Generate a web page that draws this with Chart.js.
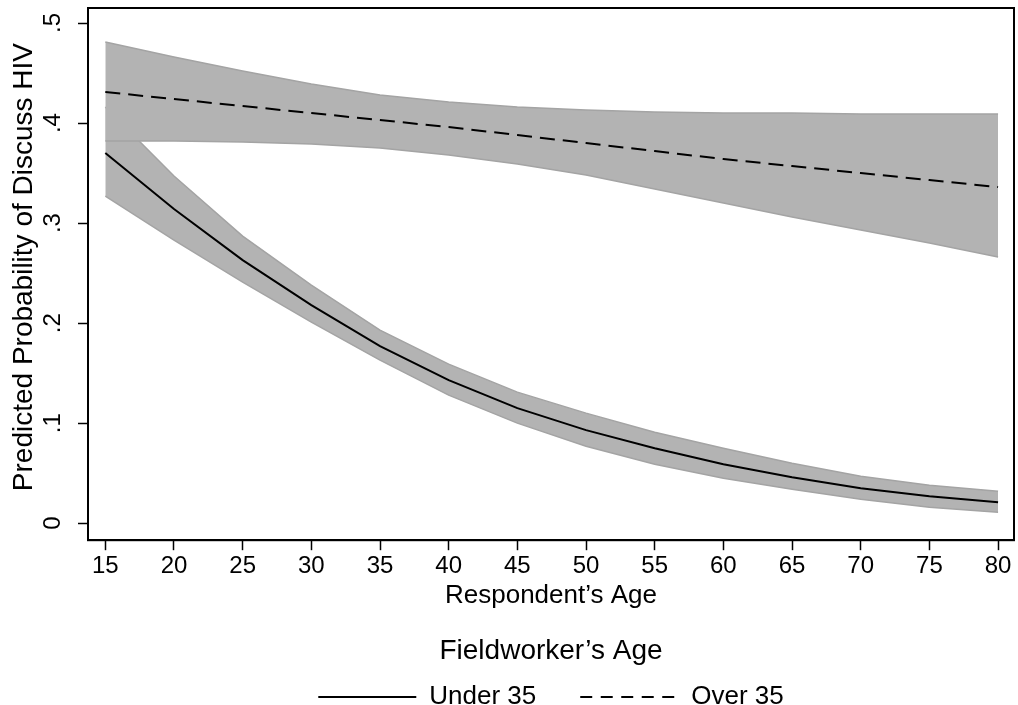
<!DOCTYPE html>
<html><head><meta charset="utf-8">
<script src="https://cdn.jsdelivr.net/npm/chart.js@4/dist/chart.umd.min.js"></script>
<style>html,body{margin:0;padding:0;background:#fff;}</style>
</head><body>
<canvas id="c" width="1018" height="705"></canvas>
<script>
// ---- data ----
const ages = [15,20,25,30,35,40,45,50,55,60,65,70,75,80];
const under35      = [0.370,0.314,0.263,0.218,0.177,0.143,0.115,0.093,0.075,0.059,0.046,0.035,0.027,0.021];
const under35Upper = [0.416,0.347,0.287,0.238,0.193,0.159,0.131,0.110,0.091,0.075,0.060,0.047,0.038,0.032];
const under35Lower = [0.327,0.283,0.241,0.201,0.163,0.128,0.100,0.077,0.059,0.045,0.034,0.024,0.016,0.011];
const over35       = [0.431,0.424,0.417,0.410,0.403,0.396,0.388,0.380,0.372,0.364,0.357,0.350,0.343,0.336];
const over35Upper  = [0.481,0.466,0.452,0.439,0.428,0.421,0.416,0.413,0.411,0.410,0.410,0.409,0.409,0.409];
const over35Lower  = [0.382,0.382,0.381,0.379,0.375,0.368,0.359,0.348,0.334,0.320,0.306,0.293,0.280,0.266];
const xTicks = [15,20,25,30,35,40,45,50,55,60,65,70,75,80];
const yTicks = [0,0.1,0.2,0.3,0.4,0.5];
const yTickLabels = ['0','.1','.2','.3','.4','.5'];
const seriesNames = ['Under 35','Over 35'];

const pts = arr => ages.map((a,i)=>({x:a, y:arr[i]}));
const FONT = '"Liberation Sans", Arial, Helvetica, sans-serif';
Chart.defaults.font.family = FONT;
Chart.defaults.color = '#000';

const BAND = '#b3b3b3', EDGE = '#a4a4a4';
const bandBase = {pointRadius:0, borderColor:EDGE, borderWidth:1.5, backgroundColor:BAND, tension:0};

const framePlugin = {
  id:'frame',
  afterDatasetsDraw(chart){
    const {ctx, chartArea:a} = chart;
    ctx.save(); ctx.strokeStyle='#000'; ctx.lineWidth=2;
    ctx.strokeRect(a.left, a.top, a.right-a.left, a.bottom-a.top);
    ctx.restore();
  }
};

new Chart(document.getElementById('c'), {
  type:'line',
  data:{datasets:[
    {...bandBase, label:'u35 upper', data:pts(under35Upper), fill:'+1', order:6},
    {...bandBase, label:'u35 lower', data:pts(under35Lower), fill:false, order:5},
    {...bandBase, label:'o35 upper', data:pts(over35Upper), fill:'+1', order:4},
    {...bandBase, label:'o35 lower', data:pts(over35Lower), fill:false, order:3},
    {label:seriesNames[1], data:pts(over35), borderColor:'#000', borderWidth:2, borderDash:[15,8], pointRadius:0, fill:false, order:2},
    {label:seriesNames[0], data:pts(under35), borderColor:'#000', borderWidth:2, pointRadius:0, fill:false, order:1}
  ]},
  options:{
    responsive:false, animation:false, devicePixelRatio:1,
    layout:{padding:{top:8, right:4, bottom:-15, left:0}},
    scales:{
      x:{type:'linear', position:'bottom', min:13.74, max:81.16,
        afterBuildTicks:s=>{s.ticks = xTicks.map(v=>({value:v}));},
        afterFit:s=>{s.height=97; s.paddingLeft=0; s.paddingRight=0;},
        ticks:{font:{size:24}, padding:2, color:'#000', autoSkip:false, maxRotation:0, callback:v=>String(v)},
        grid:{drawOnChartArea:false, tickLength:10, tickColor:'#000', tickWidth:1.5},
        border:{color:'#000', width:2},
        title:{display:true, text:'Respondent\u2019s Age', font:{size:26}, color:'#000', padding:{top:0, bottom:25.4}}
      },
      y:{type:'linear', position:'left', min:-0.017, max:0.515,
        afterBuildTicks:s=>{s.ticks = yTicks.map(v=>({value:v}));},
        afterFit:s=>{s.width=88; s.paddingTop=0; s.paddingBottom=0;},
        ticks:{font:{size:24}, minRotation:90, maxRotation:90, crossAlign:'center', padding:14.5, color:'#000', autoSkip:false,
          callback:(v,i)=>yTickLabels[i]},
        grid:{drawOnChartArea:false, tickLength:10, tickColor:'#000', tickWidth:1.5},
        border:{color:'#000', width:2},
        title:{display:true, text:'\u2002Predicted Probability of Discuss HIV', font:{size:28}, color:'#000', padding:{top:7.2, bottom:0}}
      }
    },
    plugins:{
      tooltip:{enabled:false},
      legend:{position:'bottom', fullSize:false, align:'center',
        title:{display:true, text:'Fieldworker\u2019s Age', font:{size:28}, color:'#000', padding:{top:0, bottom:-30.8}},
        labels:{usePointStyle:true, pointStyle:'line', pointStyleWidth:98, font:{size:26}, color:'#000', padding:44,
          generateLabels:()=>seriesNames.map((n,i)=>({text:n, fillStyle:'#000', strokeStyle:'#000', lineWidth:2,
            lineDash:i===0?[]:[12,8.5], pointStyle:'line', hidden:false, fontColor:'#000', datasetIndex:i===0?5:4}))
        }
      }
    }
  },
  plugins:[framePlugin]
});
</script>
</body></html>
